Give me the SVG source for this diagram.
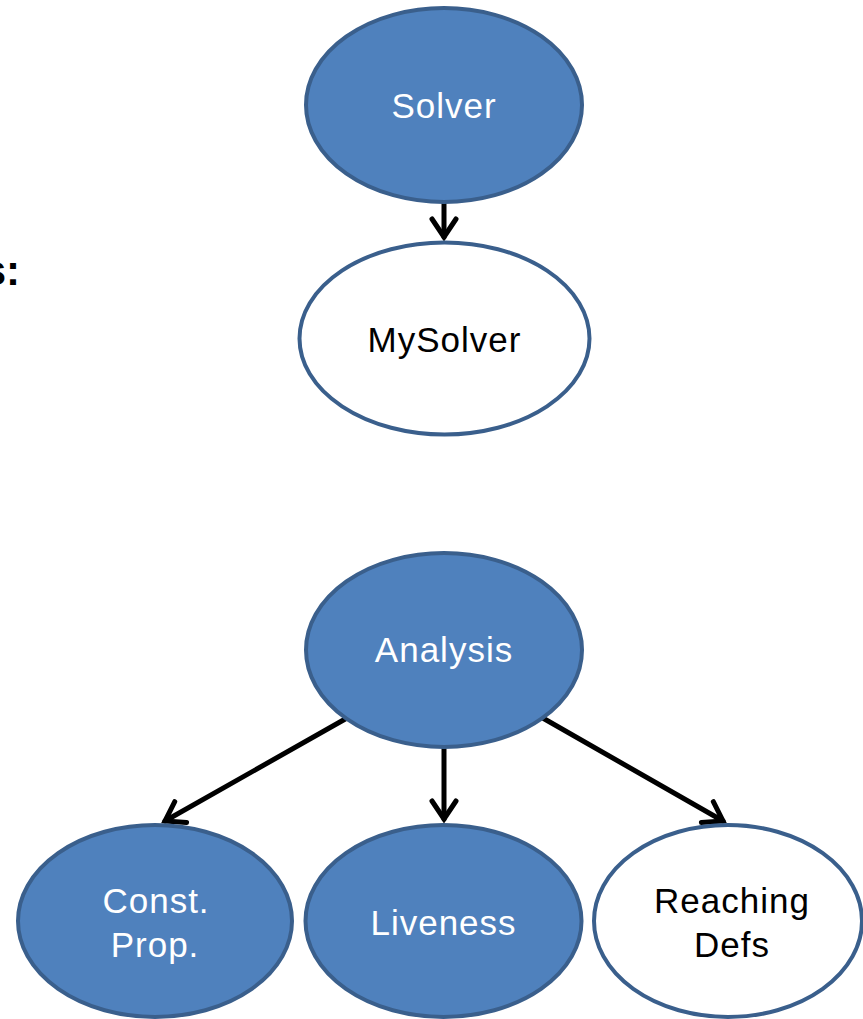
<svg xmlns="http://www.w3.org/2000/svg" width="863" height="1019" viewBox="0 0 863 1019">
  <style>
    .node-blue { fill: #4F81BD; stroke: #3A5F8C; stroke-width: 4; }
    .node-white { fill: #FFFFFF; stroke: #3A5F8C; stroke-width: 4; }
    .label { font-family: "Liberation Sans", Arial, sans-serif; font-size: 35px; letter-spacing: 1px; text-anchor: middle; }
    .light { fill: #FFFFFF; }
    .dark { fill: #000000; }
    .edge { stroke: #000000; stroke-width: 5; fill: none; stroke-linecap: round; }
  </style>
  <defs>
    <marker id="chevron" markerUnits="userSpaceOnUse" viewBox="-22 -14 26 28" markerWidth="26" markerHeight="28" refX="0" refY="0" orient="auto" overflow="visible">
      <path d="M -18 -12 L 0 0 L -18 12" fill="none" stroke="#000000" stroke-width="5" stroke-linecap="round" stroke-linejoin="miter"/>
    </marker>
  </defs>

  <rect width="863" height="1019" fill="#FFFFFF"/>

  <!-- fragment of a heading cut by the left edge -->
  <text x="20" y="285" font-family="'Liberation Sans', Arial, sans-serif" font-size="42" font-weight="bold" text-anchor="end" fill="#000000">s:</text>

  <g id="connectors">
    <line class="edge" x1="444" y1="204" x2="444" y2="237" marker-end="url(#chevron)"/>
    <line class="edge" x1="444" y1="749" x2="444" y2="819" marker-end="url(#chevron)"/>
    <line class="edge" x1="347" y1="718" x2="165" y2="821" marker-end="url(#chevron)"/>
    <line class="edge" x1="541" y1="717" x2="723" y2="821" marker-end="url(#chevron)"/>
  </g>

  <g id="solver">
    <ellipse class="node-blue" cx="444" cy="105" rx="138" ry="97"/>
    <text class="label light" x="444" y="118">Solver</text>
  </g>

  <g id="mysolver">
    <ellipse class="node-white" cx="444.5" cy="338.5" rx="145" ry="96"/>
    <text class="label dark" x="444.5" y="352">MySolver</text>
  </g>

  <g id="analysis">
    <ellipse class="node-blue" cx="444" cy="650" rx="138" ry="97"/>
    <text class="label light" x="444" y="662">Analysis</text>
  </g>

  <g id="const-prop">
    <ellipse class="node-blue" cx="155" cy="921" rx="137" ry="96"/>
    <text class="label light" x="156" y="913">Const.</text>
    <text class="label light" x="155" y="957">Prop.</text>
  </g>

  <g id="liveness">
    <ellipse class="node-blue" cx="443.5" cy="921" rx="138" ry="96"/>
    <text class="label light" x="443.5" y="935">Liveness</text>
  </g>

  <g id="reaching-defs">
    <ellipse class="node-white" cx="728" cy="921" rx="134" ry="96"/>
    <text class="label dark" x="732" y="913">Reaching</text>
    <text class="label dark" x="732" y="957">Defs</text>
  </g>
</svg>
